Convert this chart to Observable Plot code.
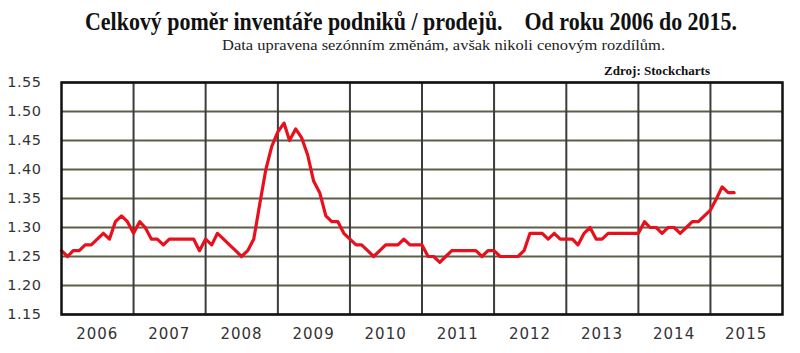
<!DOCTYPE html>
<html><head><meta charset="utf-8">
<script src="https://cdn.jsdelivr.net/npm/d3@7"></script>
<script src="https://cdn.jsdelivr.net/npm/@observablehq/plot@0.6"></script>
<style>
body{margin:0;background:#fff;}
#wrap{position:relative;width:800px;height:353px;overflow:hidden;background:#fff;}
.t{position:absolute;white-space:pre;transform-origin:0 0;color:#111;line-height:1;display:inline-block;font-family:"Liberation Serif",serif;}
#title{font-weight:bold;font-size:25px;left:85px;top:9px;}
#sub{font-weight:normal;font-size:15.5px;left:222px;top:37px;color:#222;}
#src{font-weight:bold;font-size:13px;left:604px;top:64px;}
#chart{position:absolute;left:0;top:0;}
#chart svg g[aria-label="x-axis tick label"] text{letter-spacing:1px;}
#chart svg g[aria-label="y-axis tick label"] text{letter-spacing:0.5px;}
</style></head>
<body>
<div id="wrap">
  <div id="chart"></div>
  <span class="t" id="title">Celkový poměr inventáře podniků / prodejů.    Od roku 2006 do 2015.</span>
  <span class="t" id="sub">Data upravena sezónním změnám, avšak nikoli cenovým rozdílům.</span>
  <span class="t" id="src">Zdroj: Stockcharts</span>
</div>
<script>
// Monthly total business inventories/sales ratio, Jan 2006 – May 2015
const startYear = 2006;
const ratio = [
  1.26, 1.25, 1.26, 1.26, 1.27, 1.27, 1.28, 1.29, 1.28, 1.31, 1.32, 1.31, // 2006
  1.29, 1.31, 1.30, 1.28, 1.28, 1.27, 1.28, 1.28, 1.28, 1.28, 1.28, 1.26, // 2007
  1.28, 1.27, 1.29, 1.28, 1.27, 1.26, 1.25, 1.26, 1.28, 1.34, 1.40, 1.44, // 2008
  1.465, 1.48, 1.45, 1.47, 1.455, 1.425, 1.38, 1.36, 1.32, 1.31, 1.31, 1.29, // 2009
  1.28, 1.27, 1.27, 1.26, 1.25, 1.26, 1.27, 1.27, 1.27, 1.28, 1.27, 1.27, // 2010
  1.27, 1.25, 1.25, 1.24, 1.25, 1.26, 1.26, 1.26, 1.26, 1.26, 1.25, 1.26, // 2011
  1.26, 1.25, 1.25, 1.25, 1.25, 1.26, 1.29, 1.29, 1.29, 1.28, 1.29, 1.28, // 2012
  1.28, 1.28, 1.27, 1.29, 1.30, 1.28, 1.28, 1.29, 1.29, 1.29, 1.29, 1.29, // 2013
  1.29, 1.31, 1.30, 1.30, 1.29, 1.30, 1.30, 1.29, 1.30, 1.31, 1.31, 1.32, // 2014
  1.33, 1.35, 1.37, 1.36, 1.36                                            // 2015
];
const yearLabels = ["2006","2007","2008","2009","2010","2011","2012","2013","2014","2015"];
const yTicks = [1.15, 1.20, 1.25, 1.30, 1.35, 1.40, 1.45, 1.50, 1.55];
const gridYears = [2007, 2008, 2009, 2010, 2011, 2012, 2013, 2014, 2015];

const t0 = new Date(Date.UTC(startYear, 0, 1));
const data = ratio.map((v, i) => ({date: d3.utcMonth.offset(t0, i), value: v}));
const gridDates = gridYears.map(y => new Date(Date.UTC(y, 0, 1)));
const labelDates = yearLabels.map(y => new Date(Date.UTC(+y, 6, 1)));

const chart = Plot.plot({
  width: 800, height: 353,
  marginTop: 82, marginBottom: 39, marginLeft: 61, marginRight: 18,
  style: {fontFamily: "'DejaVu Sans', Verdana, sans-serif", fontSize: "14.5px", color: "#333", background: "transparent"},
  x: {type: "utc", domain: [new Date(Date.UTC(2006,0,1)), new Date(Date.UTC(2016,0,1))]},
  y: {domain: [1.15, 1.55]},
  marks: [
    Plot.ruleY(yTicks, {stroke: "#5e5e48", strokeWidth: 2}),
    Plot.ruleX(gridDates, {stroke: "#3c3c3c", strokeWidth: 2}),
    Plot.line(data, {x: "date", y: "value", stroke: "#e8101c", strokeWidth: 3.2, strokeLinejoin: "round"}),
    Plot.frame({stroke: "#111", strokeWidth: 2.5}),
    Plot.axisY(yTicks, {tickSize: 0, tickPadding: 20, tickFormat: d => d.toFixed(2), label: null, fontSize: 14.5}),
    Plot.axisX(labelDates, {tickSize: 0, tickPadding: 14, tickFormat: d => String(d.getUTCFullYear()), label: null, fontSize: 15})
  ]
});
document.getElementById("chart").appendChild(chart);

function fitX(id, target) {
  const el = document.getElementById(id);
  const w = el.getBoundingClientRect().width;
  el.style.transform = `scaleX(${target / w})`;
}
fitX("title", 652);
fitX("sub", 443);
fitX("src", 106);
</script>
</body></html>
